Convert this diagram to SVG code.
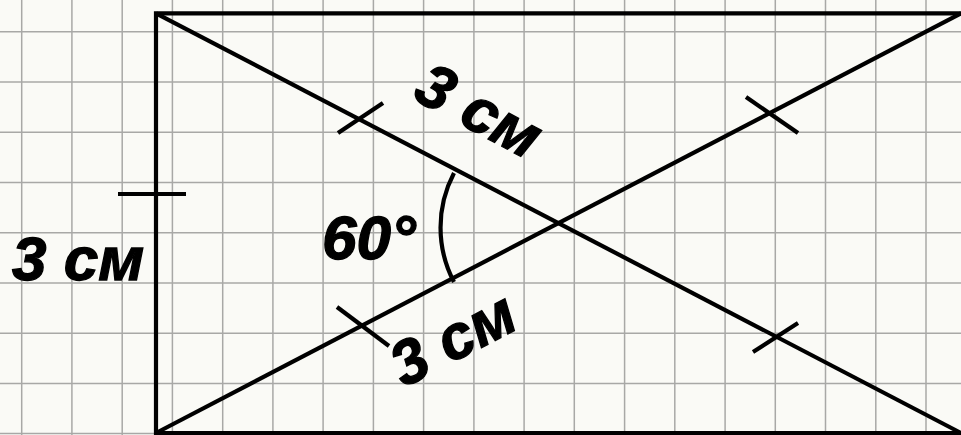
<svg xmlns="http://www.w3.org/2000/svg" width="961" height="435" viewBox="0 0 961 435">
<style>
.grid line{stroke:#a8a8a6;stroke-width:1.5}
.fig{stroke:#000;stroke-width:4.2;fill:none;stroke-linecap:butt}
.lbl{font-family:"Liberation Sans",Arial,sans-serif;font-weight:bold;font-style:italic;font-size:62px;fill:#000;stroke:#000;stroke-width:1.3}
</style>
<rect width="961" height="435" fill="#fafaf6"/>
<g id="grid" class="grid">
<line x1="21.7" y1="0" x2="21.7" y2="435"/><line x1="71.9" y1="0" x2="71.9" y2="435"/><line x1="122.2" y1="0" x2="122.2" y2="435"/><line x1="172.4" y1="0" x2="172.4" y2="435"/><line x1="222.7" y1="0" x2="222.7" y2="435"/><line x1="272.9" y1="0" x2="272.9" y2="435"/><line x1="323.1" y1="0" x2="323.1" y2="435"/><line x1="373.4" y1="0" x2="373.4" y2="435"/><line x1="423.6" y1="0" x2="423.6" y2="435"/><line x1="473.9" y1="0" x2="473.9" y2="435"/><line x1="524.1" y1="0" x2="524.1" y2="435"/><line x1="574.3" y1="0" x2="574.3" y2="435"/><line x1="624.6" y1="0" x2="624.6" y2="435"/><line x1="674.8" y1="0" x2="674.8" y2="435"/><line x1="725.1" y1="0" x2="725.1" y2="435"/><line x1="775.3" y1="0" x2="775.3" y2="435"/><line x1="825.5" y1="0" x2="825.5" y2="435"/><line x1="875.8" y1="0" x2="875.8" y2="435"/><line x1="926" y1="0" x2="926" y2="435"/>
<line x1="0" y1="31.7" x2="961" y2="31.7"/><line x1="0" y1="81.9" x2="961" y2="81.9"/><line x1="0" y1="132.2" x2="961" y2="132.2"/><line x1="0" y1="182.4" x2="961" y2="182.4"/><line x1="0" y1="232.7" x2="961" y2="232.7"/><line x1="0" y1="282.9" x2="961" y2="282.9"/><line x1="0" y1="333.2" x2="961" y2="333.2"/><line x1="0" y1="383.4" x2="961" y2="383.4"/><line x1="0" y1="433.6" x2="961" y2="433.6"/>
</g>
<g id="rectangle" class="fig">
<polyline points="966,13.3 156,13.3 156,433 966,433"/>
</g>
<g id="connectors" class="fig">
<line id="diag1" x1="156" y1="13.3" x2="961" y2="433"/>
<line id="diag2" x1="156" y1="433" x2="961" y2="13.3"/>
</g>
<g id="ticks" class="fig">
<line x1="118" y1="194" x2="186" y2="194"/>
<line x1="338" y1="133" x2="383" y2="103"/>
<line x1="753" y1="352" x2="798" y2="323"/>
<line x1="746" y1="97" x2="798" y2="133"/>
<line x1="337" y1="307" x2="389" y2="346"/>
</g>
<g id="angle" class="fig">
<path d="M454,173 A117,117 0 0 0 454,282"/>
</g>
<g id="labels">
<text class="lbl" x="12" y="280">3 см</text>
<text class="lbl" x="322" y="259">60°</text>
<text class="lbl" transform="translate(411,98) rotate(28)">3 см</text>
<text class="lbl" transform="translate(404,388) rotate(-27.5)">3 см</text>
</g>
</svg>
